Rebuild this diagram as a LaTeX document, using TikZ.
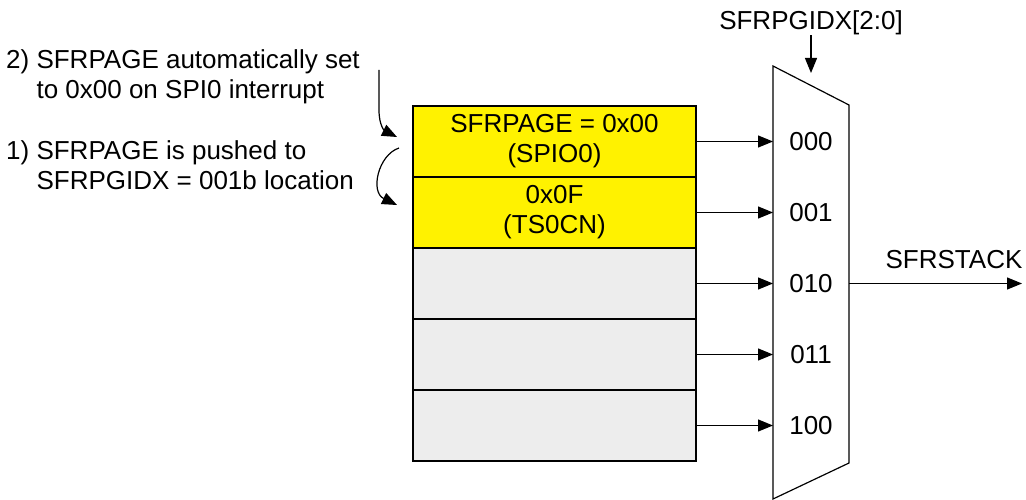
\documentclass[tikz,border=0pt]{standalone}
\usepackage{fontspec}
\setmainfont{Liberation Sans}
\usetikzlibrary{arrows.meta}
\tikzset{
  txt/.style={font=\fontsize{26}{30}\selectfont, inner sep=0pt},
  cell/.style={draw, line width=1.5pt, minimum width=283pt, minimum height=71pt, inner sep=0pt, align=center, txt},
  used/.style={cell, fill=yellow},
  free/.style={cell, fill=black!7},
  wire/.style={line width=1.2pt, -{Triangle[length=15pt,width=12pt]}}
}
\begin{document}
\begin{tikzpicture}[x=1pt, y=-1pt]
	\useasboundingbox (0,0) rectangle (1026,500);
	% stack cells
	\node[used] (r0) at (554.5,141.5) {SFRPAGE = 0x00\\(SPIO0)};
	\node[used] (r1) at (554.5,212.5) {0x0F\\(TS0CN)};
	\node[free] (r2) at (554.5,283.5) {};
	\node[free] (r3) at (554.5,354.5) {};
	\node[free] (r4) at (554.5,425.5) {};
	% mux
	\draw[line width=1.2pt] (773,66) -- (849,105) -- (849,463) -- (773,499) -- cycle;
	\coordinate (in0) at (773,141.5);
	\coordinate (in1) at (773,212.5);
	\coordinate (in2) at (773,283.5);
	\coordinate (in3) at (773,354.5);
	\coordinate (in4) at (773,425.5);
	\node[txt] (s0) at (811,141.5) {000};
	\node[txt] (s1) at (811,212.5) {001};
	\node[txt] (s2) at (811,283.5) {010};
	\node[txt] (s3) at (811,354.5) {011};
	\node[txt] (s4) at (811,425.5) {100};
	\draw[wire] (r0.east) -- (in0);
	\draw[wire] (r1.east) -- (in1);
	\draw[wire] (r2.east) -- (in2);
	\draw[wire] (r3.east) -- (in3);
	\draw[wire] (r4.east) -- (in4);
	% select and output
	\node[txt] (idx) at (811,23) {SFRPGIDX[2:0]};
	\coordinate (sel) at (811,73);
	\draw[wire] (idx.south) -- (sel);
	\coordinate (out) at (849,283.5);
	\coordinate (outend) at (1022,283.5);
	\draw[wire] (out) -- (outend);
	\node[txt] (stk) at (954,260) {SFRSTACK};
	% notes
	\node[txt, anchor=west, align=left] (n2) at (6,77) {2) SFRPAGE automatically set\\\phantom{2) }to 0x00 on SPI0 interrupt};
	\node[txt, anchor=west, align=left] (n1) at (6,168) {1) SFRPAGE is pushed to\\\phantom{1) }SFRPGIDX = 001b location};
	\coordinate (a2) at (379,70);
	\coordinate (b2) at (397,137);
	\coordinate (a1) at (399,148);
	\coordinate (b1) at (397,205);
	\draw[wire] (a2) -- (379,110) .. controls (379,126) and (385,131) .. (b2);
	\draw[wire] (a1) .. controls (378,155) and (370,192) .. (b1);
\end{tikzpicture}
\end{document}
